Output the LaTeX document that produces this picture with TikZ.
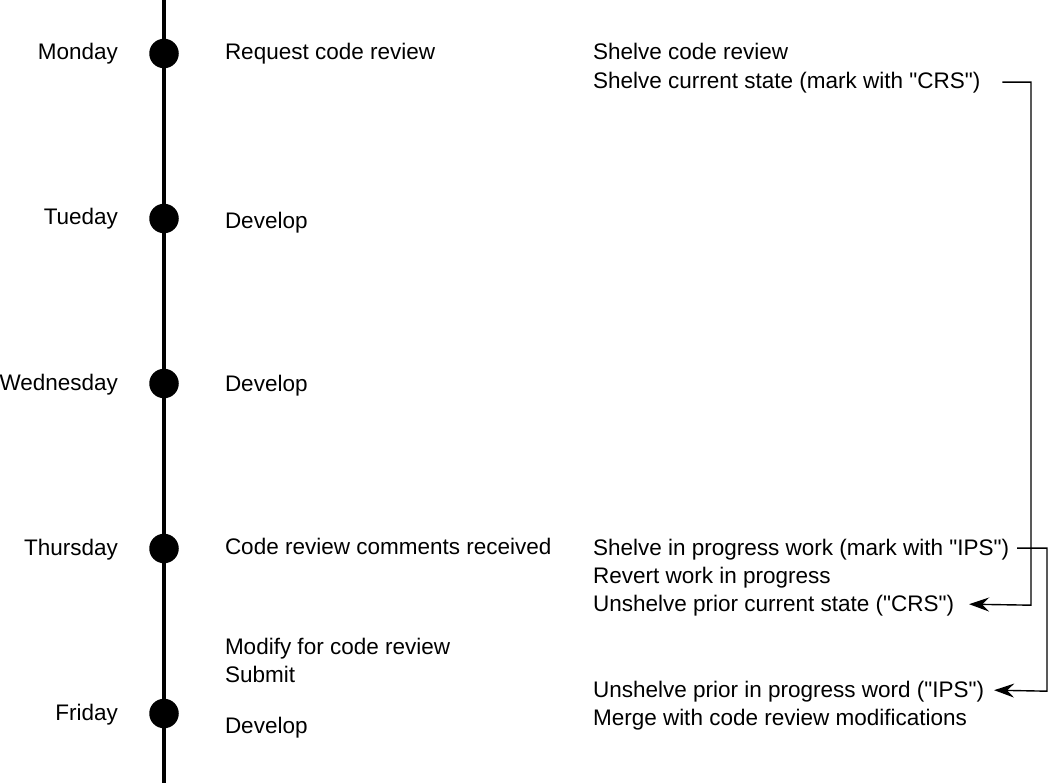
\documentclass[tikz,border=0pt]{standalone}
\usepackage{fontspec}
\setmainfont{Liberation Sans}[Ligatures=TeXOff]
\usetikzlibrary{arrows.meta}
\begin{document}
\begin{tikzpicture}[x=1pt,y=-1pt,
  every node/.style={inner sep=0pt,outer sep=0pt,font=\fontsize{22.5}{27}\selectfont},
  day/.style={anchor=base east},
  txt/.style={anchor=base west},
  dot/.style={circle,fill=black,minimum size=29.5pt},
  conn/.style={line width=1.4pt,-{Stealth[length=20pt,width=14pt,inset=7pt]}},
  axis/.style={line width=4.5pt}]
\useasboundingbox (0,0) rectangle (1048,783);
\fill[white] (0,0) rectangle (1048,783);
% timeline
\coordinate (top) at (164,0);
\coordinate (bot) at (164,783);
\draw[axis] (top) -- (bot);
\node[dot] (d1) at (164,53.5) {};
\node[dot] (d2) at (164,218.5) {};
\node[dot] (d3) at (164,383.5) {};
\node[dot] (d4) at (164,548.5) {};
\node[dot] (d5) at (164,713.5) {};
% days
\node[day] (mon) at (118,60) {Monday};
\node[day] (tue) at (118,225) {Tueday};
\node[day] (wed) at (118,390) {Wednesday};
\node[day] (thu) at (118,555) {Thursday};
\node[day] (fri) at (118,720) {Friday};
% middle column
\node[txt] (m1) at (225,60) {Request code review};
\node[txt] (m2) at (225,229) {Develop};
\node[txt] (m3) at (225,391) {Develop};
\node[txt] (m4) at (225,554) {Code review comments received};
\node[txt] (m5) at (225,654) {Modify for code review};
\node[txt] (m6) at (225,682) {Submit};
\node[txt] (m7) at (225,733) {Develop};
% right column
\node[txt] (r1) at (593,60) {Shelve code review};
\node[txt] (crs) at (593,89) {Shelve current state (mark with "CRS")};
\node[txt] (ips) at (593,555) {Shelve in progress work (mark with "IPS")};
\node[txt] (r4) at (593,583) {Revert work in progress};
\node[txt] (ucrs) at (593,611) {Unshelve prior current state ("CRS")};
\node[txt] (uips) at (593,697) {Unshelve prior in progress word ("IPS")};
\node[txt] (r7) at (593,725) {Merge with code review modifications};
% connectors
\coordinate (k1) at (1031,0);
\coordinate (k2) at (1047,0);
\draw[conn] ([xshift=22pt,yshift=1pt]crs.east) -| (k1 |- ucrs.east) -- ([xshift=15pt,yshift=1pt]ucrs.east);
\draw[conn] ([xshift=8pt,yshift=1pt]ips.east) -| (k2 |- uips.east) -- ([xshift=10pt,yshift=1pt]uips.east);
\end{tikzpicture}
\end{document}
